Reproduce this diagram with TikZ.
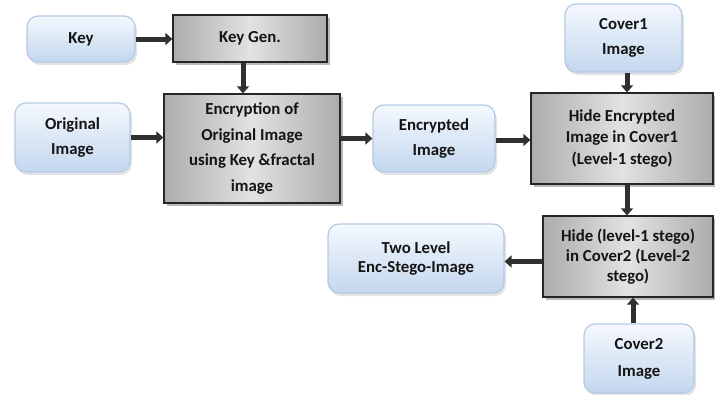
\documentclass[tikz,border=0pt]{standalone}
\usepackage{fontspec}
\setmainfont{Carlito}
\usetikzlibrary{arrows.meta,shadows,calc}

\definecolor{bluetop}{HTML}{F4F8FD}
\definecolor{bluebot}{HTML}{C4D7EF}
\definecolor{blueedge}{HTML}{B4C9E4}
\definecolor{arrowdark}{HTML}{303030}
\definecolor{textdark}{HTML}{141414}
\definecolor{grayin}{HTML}{E2E2E2}
\definecolor{grayout}{HTML}{ACACAC}

\tikzset{
  x=1pt, y=-1pt,
  boxtext/.style={font=\fontsize{16.8}{25}\selectfont\bfseries, text=textdark, align=center, inner sep=0pt},
  bluebox/.style={boxtext, rectangle, rounded corners=11pt, draw=blueedge, line width=1.2pt,
    top color=bluetop, bottom color=bluebot,
    drop shadow={shadow xshift=2pt, shadow yshift=-3pt, opacity=0.22}},
  graybox/.style={boxtext, rectangle, draw=black!85, line width=1.3pt,
    left color=grayout, right color=grayout, middle color=grayin,
    drop shadow={shadow xshift=2.5pt, shadow yshift=-2.5pt, opacity=0.55}},
  flow/.style={draw=arrowdark, line width=5pt,
    -{Triangle[length=7pt, width=12pt]}},
}

\begin{document}
\begin{tikzpicture}
\useasboundingbox (0,0) rectangle (715,394);

% input boxes
\node[bluebox, minimum width=108pt, minimum height=46pt] (key) at (81,39) {Key};
\node[bluebox, minimum width=115pt, minimum height=69pt] (orig) at (72.5,137.5) {Original\\Image};
\node[bluebox, minimum width=122pt, minimum height=67pt] (encimg) at (434,138.5) {Encrypted\\Image};
\node[bluebox, minimum width=117pt, minimum height=68pt] (cover1) at (623.5,38) {Cover1\\Image};
\node[bluebox, minimum width=176pt, minimum height=69pt,
      font=\fontsize{16.8}{19}\selectfont\bfseries] (two) at (416,258.5) {Two Level\\Enc-Stego-Image};
\node[bluebox, minimum width=110pt, minimum height=69pt,
      font=\fontsize{16.8}{27}\selectfont\bfseries] (cover2) at (639,358.5) {Cover2\\Image};

% processing boxes
\node[graybox, minimum width=154pt, minimum height=47pt] (keygen) at (250,38.5) {Key Gen.};
\node[graybox, minimum width=176pt, minimum height=109pt,
      font=\fontsize{16.8}{25.7}\selectfont\bfseries] (enc) at (252,148.5)
      {Encryption of\\Original Image\\using Key \&fractal\\image};
\node[graybox, minimum width=182pt, minimum height=91pt,
      font=\fontsize{16.8}{21.5}\selectfont\bfseries] (hide1) at (622,138.5)
      {Hide Encrypted\\Image in Cover1\\(Level-1 stego)};
\node[graybox, minimum width=170pt, minimum height=81pt,
      font=\fontsize{16.8}{20}\selectfont\bfseries] (hide2) at (628,256.5)
      {Hide (level-1 stego)\\in Cover2 (Level-2\\stego)};

% connectors
\draw[flow] (key.east) -- (keygen.west |- key.east);
\draw[flow] ([xshift=-7pt]keygen.south) -- ([xshift=-7pt]keygen.south |- enc.north);
\draw[flow] (orig.east) -- (enc.west |- orig.east);
\draw[flow] (enc.east |- encimg.west) -- (encimg.west);
\draw[flow] ([yshift=-1.5pt]encimg.east) -- ([yshift=-1.5pt]encimg.east -| hide1.west);
\draw[flow] ([xshift=3.5pt]cover1.south) -- ([xshift=3.5pt]cover1.south |- hide1.north);
\draw[flow] ([xshift=5pt]hide1.south) -- ([xshift=5pt]hide1.south |- hide2.north);
\draw[flow] ([yshift=-5pt]hide2.west) -- ([yshift=-5pt]hide2.west -| two.east);
\draw[flow] ([xshift=-6pt]cover2.north) -- ([xshift=-6pt]cover2.north |- hide2.south);
\end{tikzpicture}
\end{document}
